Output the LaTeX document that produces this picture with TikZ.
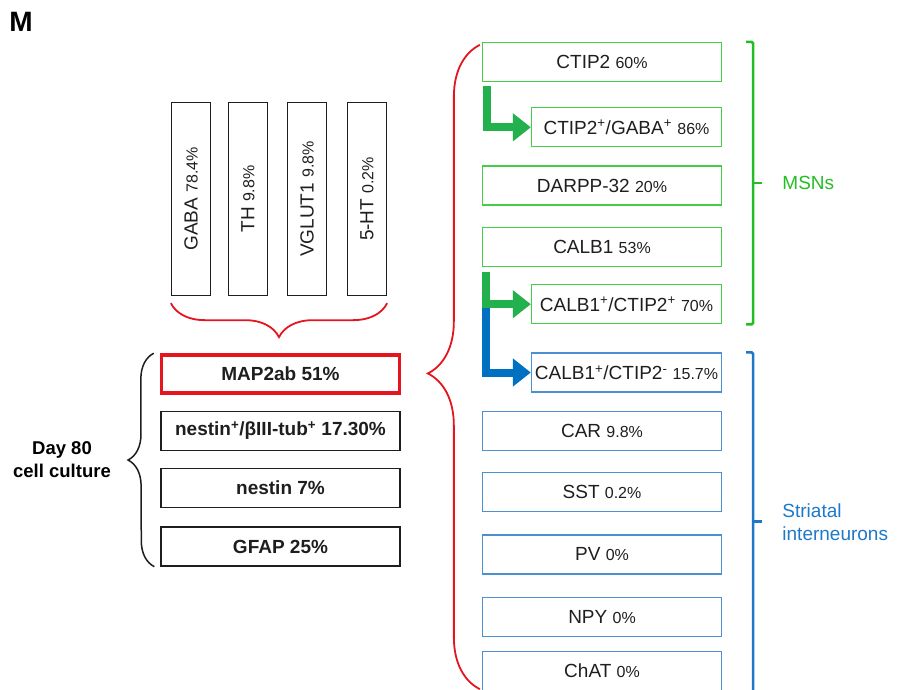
\documentclass[tikz,border=0pt]{standalone}
\usepackage{fontspec}
\setmainfont{Liberation Sans}
\usetikzlibrary{arrows.meta,positioning,calc,decorations.pathreplacing}
\definecolor{boxgreen}{RGB}{70,205,70}
\definecolor{arrowgreen}{RGB}{34,177,76}
\definecolor{msngreen}{RGB}{36,190,36}
\definecolor{boxblue}{RGB}{75,145,210}
\definecolor{arrowblue}{RGB}{0,112,192}
\definecolor{intblue}{RGB}{30,120,200}
\definecolor{bracered}{RGB}{230,20,30}
\definecolor{inkgray}{RGB}{30,30,30}
\newcommand{\pct}[1]{{\fontsize{16}{18}\selectfont #1}}
\tikzset{
  panellabel/.style={font=\fontsize{28}{30}\selectfont\bfseries, inner sep=0pt},
  markbox/.style={rectangle, draw=inkgray, line width=1.3pt, minimum width=193pt,
    minimum height=39pt, inner sep=0pt, rotate=90, text=inkgray, font=\fontsize{19}{22}\selectfont},
  cellbox/.style={rectangle, draw=inkgray, line width=1.3pt, minimum width=239pt,
    minimum height=39pt, inner sep=0pt, text=inkgray, font=\fontsize{19}{22}\selectfont\bfseries},
  mapbox/.style={cellbox, draw=bracered, line width=3.5pt, minimum width=238pt, minimum height=38pt},
  msnbox/.style={rectangle, draw=boxgreen, line width=1.3pt, minimum width=239pt,
    minimum height=39pt, inner sep=0pt, text=inkgray, font=\fontsize{19}{22}\selectfont},
  intbox/.style={msnbox, draw=boxblue},
  subbox/.style={minimum width=190pt},
  garrow/.style={draw=arrowgreen, line width=8pt, -{Triangle[width=27pt,length=18pt]}},
  barrow/.style={garrow, draw=arrowblue},
  redbrace/.style={draw=bracered, line width=1.8pt, decorate},
  blackbrace/.style={draw=inkgray, line width=1.5pt, decorate,
    decoration={brace, amplitude=26pt}},
  msnbrack/.style={draw=msngreen, line width=2.6pt, rounded corners=1.5pt},
  intbrack/.style={msnbrack, draw=intblue},
  sidelabel/.style={inner sep=0pt, align=left, font=\fontsize{19}{23}\selectfont},
}
\begin{document}
\begin{tikzpicture}[x=1pt, y=-1pt]
  \useasboundingbox (0,0) rectangle (899,690);
  \node[panellabel] (panel) at (21,22) {M};

  % neurotransmitter markers
  \node[markbox] (gaba) at (191,199) {GABA \pct{78.4\%}};
  \node[markbox] (th) at (248,199) {TH \pct{9.8\%}};
  \node[markbox] (vglut) at (307,199) {VGLUT1 \pct{9.8\%}};
  \node[markbox] (fiveht) at (367,199) {5-HT \pct{0.2\%}};

  % day 80 culture
  \node[mapbox] (map) at (280.5,374) {MAP2ab 51\%};
  \node[cellbox, below=16pt of map] (nesttub) {nestin\textsuperscript{+}/βIII-tub\textsuperscript{+} 17.30\%};
  \node[cellbox, below=17pt of nesttub] (nestin) {nestin 7\%};
  \node[cellbox, below=18pt of nestin] (gfap) {GFAP 25\%};

  % striatal subtypes
  \node[msnbox] (ctip) at (602,62) {CTIP2 \pct{60\%}};
  \node[msnbox, subbox, below=25pt of ctip.south east, anchor=north east] (ctipgaba)
    {CTIP2\textsuperscript{+}/GABA\textsuperscript{+} \pct{86\%}};
  \node[msnbox, below=18pt of ctipgaba.south east, anchor=north east] (darpp) {DARPP-32 \pct{20\%}};
  \node[msnbox, below=21pt of darpp.south east, anchor=north east] (calb) {CALB1 \pct{53\%}};
  \node[msnbox, subbox, below=17pt of calb.south east, anchor=north east] (calbctip)
    {CALB1\textsuperscript{+}/CTIP2\textsuperscript{+} \pct{70\%}};
  \node[intbox, subbox, below=28pt of calbctip.south east, anchor=north east] (calbneg)
    {CALB1\textsuperscript{+}/CTIP2\textsuperscript{-} \pct{15.7\%}};
  \node[intbox, below=18pt of calbneg.south east, anchor=north east] (car) {CAR \pct{9.8\%}};
  \node[intbox, below=21pt of car.south east, anchor=north east] (sst) {SST \pct{0.2\%}};
  \node[intbox, below=22pt of sst.south east, anchor=north east] (pv) {PV \pct{0\%}};
  \node[intbox, below=22pt of pv.south east, anchor=north east] (npy) {NPY \pct{0\%}};
  \node[intbox, below=14pt of npy.south east, anchor=north east] (chat) {ChAT \pct{0\%}};

  % L-shaped arrows
  \draw[barrow] ([xshift=4pt,yshift=-5pt]calb.south west) |- (calbneg);
  \draw[garrow] ([xshift=5pt,yshift=-4pt]ctip.south west) |- (ctipgaba);
  \draw[garrow] ([xshift=4pt,yshift=-5pt]calb.south west) |- (calbctip);

  % braces
  \draw[redbrace, decoration={brace, amplitude=34pt}]
    ([yshift=-7pt]fiveht.south west) -- ([yshift=-7pt]gaba.north west);
  \draw[blackbrace] ([xshift=-6pt]gfap.south west) -- ([xshift=-6pt]map.north west);
  \coordinate (cultip) at ($([xshift=-32pt]map.north west)!0.5!([xshift=-32pt]gfap.south west)$);
  \node[sidelabel, align=center, font=\fontsize{18.5}{23}\selectfont\bfseries, left=17pt of cultip]
    (day) {Day 80\\cell culture};
  \draw[redbrace, decoration={brace, amplitude=52pt, aspect=0.49}]
    ([xshift=-2pt,yshift=2pt]chat.south west) -- ([xshift=-2pt,yshift=-3pt]ctip.north west);

  % brackets
  \draw[msnbrack] ([xshift=24pt]ctip.north east) -- ++(7,0) |- ([xshift=24pt]calbctip.south east);
  \coordinate (msnmid) at ($([xshift=31pt]ctip.north east)!0.5!([xshift=31pt]calbctip.south east)$);
  \draw[msnbrack] (msnmid) -- ++(9,0) node[sidelabel, right=19pt, text=msngreen] (msns) {MSNs};
  \draw[intbrack] ([xshift=24pt]calbneg.north east) -- ++(7,0) |- ([xshift=24pt,yshift=-4pt]chat.south east);
  \coordinate (intmid) at ($([xshift=31pt]calbneg.north east)!0.5!([xshift=31pt]chat.south east)$);
  \draw[intbrack] (intmid) -- ++(9,0) node[sidelabel, right=19pt, text=intblue] (inter) {Striatal\\interneurons};
\end{tikzpicture}
\end{document}
